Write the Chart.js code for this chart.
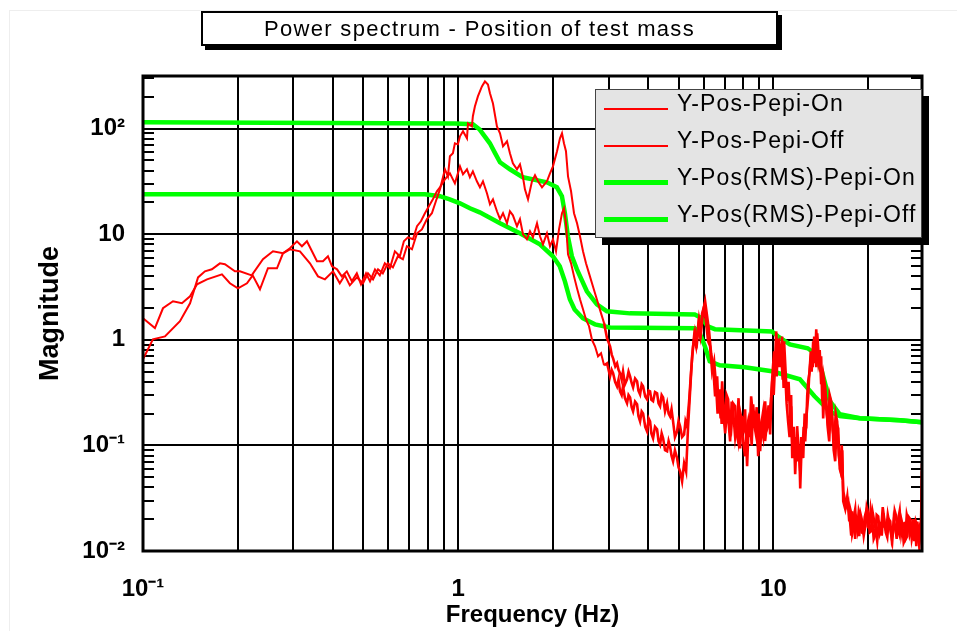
<!DOCTYPE html>
<html>
<head>
<meta charset="utf-8">
<script src="https://cdn.jsdelivr.net/npm/chart.js"></script>
<style>
  html, body { margin: 0; padding: 0; background: #fff; }
  #wrap { position: relative; width: 957px; height: 631px; overflow: hidden; }
  #frame { position: absolute; left: 9px; top: 10px; right: -2px; bottom: -2px; border-left: 1px solid #eee; border-top: 1px solid #eee; }
  #c { position: absolute; left: 0; top: 0; }
  #title { position: absolute; left: 201px; top: 11px; width: 553px; height: 31px; padding-right: 20px;
    border: 2px solid #000; background: #fff; box-shadow: 4px 4px 0 #000;
    font: 22px 'Liberation Sans', Arial, Helvetica, sans-serif; letter-spacing: 1.3px;
    text-align: center; line-height: 32px; color: #000; white-space: nowrap; }
  #legend { position: absolute; left: 595px; top: 89px; width: 325px; height: 147px;
    background: #e4e4e4; border: 1px solid #444; box-shadow: 7px 7px 0 #000; }
  .row { position: absolute; left: 0; height: 37px; width: 325px; }
  .sample { position: absolute; left: 8px; width: 64px; }
  .lbl { position: absolute; left: 81px; top: 0; line-height: 37px;
    font: 23px 'Liberation Sans', Arial, Helvetica, sans-serif; letter-spacing: 1.1px; color: #000; white-space: nowrap; }
</style>
</head>
<body>
<div id="wrap">
  <div id="frame"></div>
  <canvas id="c" width="957" height="631"></canvas>
  <div id="title">Power spectrum - Position of test mass</div>
  <div id="legend"></div>
</div>
<script>
// ---------- data (frequency Hz, magnitude) ----------
const seriesLabels = ['Y-Pos-Pepi-On', 'Y-Pos-Pepi-Off', 'Y-Pos(RMS)-Pepi-On', 'Y-Pos(RMS)-Pepi-Off'];

const pepiOn = [
 [0.100,1.60],[0.1091,1.29],[0.1157,1.99],[0.1245,2.32],[0.1329,2.22],[0.141,2.58],[0.1484,3.35],[0.1596,3.74],[0.178,4.17],[0.1887,3.43],
 [0.2001,3.07],[0.2137,3.43],[0.2228,4.08],[0.235,3.01],[0.2491,4.76],[0.2661,4.76],[0.278,6.60],[0.2925,7.20],[0.3147,6.89],[0.3386,5.30],
 [0.359,3.99],[0.3777,3.74],[0.4007,4.45],[0.421,3.43],[0.4367,4.08],[0.453,3.28],[0.4768,3.90],[0.4988,3.43],[0.5174,4.26],[0.5367,3.74],
 [0.5566,4.65],[0.5765,4.26],[0.598,5.30],[0.6205,4.86],[0.6435,6.18],[0.6675,5.79],[0.6873,7.69],[0.7133,7.20],[0.740,10.2],[0.767,11.1],
 [0.7957,13.9],[0.825,15.8],[0.8494,20.5],[0.875,26.6],[0.9076,41.2],[0.9277,35.3],[0.941,54.7],[0.962,58.4],[0.976,72.6],[0.9977,71],
 [1.013,84.6],[1.0355,94.3],[1.066,81],[1.074,112],[1.105,105],[1.113,131],[1.1295,162],[1.1546,202],[1.189,251],[1.2156,280],
 [1.2425,262],[1.261,216],[1.289,173],[1.327,105],[1.357,90.3],[1.387,68],[1.428,75.8],[1.459,58.4],[1.491,46.9],[1.536,41.2],
 [1.570,45.9],[1.605,34.6],[1.628,26.6],[1.665,21.4],[1.714,31.7],[1.752,36.1],[1.791,31.7],[1.844,27.8],[1.912,31.7],[1.955,37.7],
 [1.998,43.9],[2.058,61],[2.103,81],[2.134,90.3],[2.165,72.6],[2.197,61],[2.23,35.3],[2.28,25.5],[2.33,15.8],[2.382,12.7],
 [2.434,9.56],[2.488,6.89],[2.543,5.30],[2.6,4.26],[2.657,3.43],[2.716,2.76],[2.777,2.22],[2.839,1.78],[2.902,1.44],[2.966,1.03],
 [3.032,0.868],[3.07,0.72],[3.10,0.668],[3.15,0.56],[3.19,0.599],[3.225,0.52],[3.261,0.482],[3.30,0.42],[3.333,0.503],[3.38,0.38],
 [3.432,0.423],[3.47,0.5],[3.509,0.451],[3.55,0.39],[3.587,0.355],[3.64,0.43],[3.693,0.405],[3.73,0.33],[3.775,0.304],[3.82,0.38],
 [3.859,0.363],[3.92,0.29],[3.973,0.273],[4.02,0.33],[4.061,0.325],[4.10,0.27],[4.151,0.262],[4.21,0.32],[4.274,0.311],[4.32,0.25],
 [4.369,0.235],[4.42,0.3],[4.466,0.285],[4.53,0.21],[4.598,0.251],[4.65,0.2],[4.70,0.188],[4.75,0.22],[4.804,0.169],[4.87,0.12],
 [4.947,0.136],[5.0,0.17],[5.057,0.152],[5.13,0.12],[5.207,0.127],[5.26,0.17],[5.322,0.152],[5.36,0.2],[5.40,0.262],[5.48,0.503],
 [5.561,0.868],[5.642,1.20],[5.726,0.968],[5.81,1.56],[5.896,1.2],[5.983,1.86],[6.071,2.32],[6.16,1.67],[6.25,1.2],[6.343,0.745],
 [6.437,0.561],[6.531,0.291],[6.628,0.451],[6.70,0.22],[6.774,0.34],[6.85,0.16],[6.924,0.21],[7.03,0.13],[7.13,0.235],[7.21,0.16],
 [7.288,0.109],[7.37,0.26],[7.45,0.21],[7.56,0.12],[7.67,0.169],[7.75,0.28],[7.84,0.0936],[7.93,0.19],[8.014,0.130],[8.13,0.22],
 [8.25,0.0634],[8.34,0.15],[8.435,0.180],[8.53,0.10],[8.62,0.245],[8.75,0.14],[8.88,0.109],[8.98,0.2],[9.075,0.088],[9.18,0.17],
 [9.277,0.21],[9.41,0.11],[9.55,0.169],[9.65,0.24],[9.763,0.127],[9.84,0.25],[9.91,0.405],[10.02,0.3],[10.13,0.626],[10.24,0.45],
 [10.35,1.03],[10.46,0.55],[10.58,0.745],[10.70,0.42],[10.81,0.968],[10.93,0.5],[11.05,0.262],[11.17,0.4],[11.30,0.18],[11.38,0.3],
 [11.47,0.0756],[11.6,0.15],[11.72,0.0533],[11.85,0.12],[11.98,0.0707],[12.07,0.1],[12.16,0.0392],[12.3,0.11],[12.43,0.0756],[12.56,0.2],
 [12.7,0.145],[12.8,0.3],[12.89,0.405],[13.03,0.5],[13.18,0.778],[13.32,0.55],[13.47,1.076],[13.57,0.7],[13.67,1.26],[13.77,0.8],
 [13.87,0.626],[14.02,0.8],[14.17,0.379],[14.27,0.5],[14.38,0.18],[14.54,0.35],[14.7,0.273],[14.86,0.15],[15.03,0.109],[15.2,0.25],
 [15.36,0.188],[15.53,0.09],[15.7,0.0707],[15.87,0.16],[16.05,0.145],[16.23,0.06],[16.41,0.0533],[16.53,0.09],[16.65,0.0296],[16.9,0.0249],
 [17.15,0.0329],[17.4,0.0191],[17.52,0.025],[17.65,0.0228],[17.78,0.0145],[17.91,0.016],[18.04,0.022],[18.17,0.0249],[18.3,0.017],[18.44,0.0154],
 [18.65,0.024],[18.85,0.0213],[19.06,0.015],[19.27,0.0147],[19.48,0.021],[19.69,0.0238],[19.91,0.017],[20.13,0.0164],[20.35,0.025],[20.58,0.02],
 [20.8,0.013],[21.03,0.0141],[21.26,0.022],[21.5,0.0213],[21.74,0.0145],[21.98,0.016],[22.22,0.026],[22.47,0.02],[22.72,0.015],[22.97,0.0135],
 [23.22,0.02],[23.47,0.0191],[23.73,0.013],[23.99,0.0154],[24.25,0.024],[24.52,0.0213],[24.8,0.016],[25.07,0.0144],[25.34,0.021],[25.62,0.0183],
 [25.9,0.012],[26.19,0.013],[26.48,0.022],[26.77,0.0191],[27.07,0.014],[27.37,0.0154],[27.67,0.02],[27.98,0.0124],[28.29,0.019],[28.6,0.0171],
 [28.8,0.0125],[29.02,0.0111],[29.23,0.018],[29.44,0.0191],[29.6,0.0677]
];

const pepiOff = [
 [0.100,0.654],[0.1075,1.01],[0.1174,1.076],[0.131,1.5],[0.141,2.22],[0.1495,3.90],[0.1572,4.45],[0.1654,4.65],[0.1754,5.30],[0.1819,5.19],
 [0.1957,4.45],[0.203,4.45],[0.2212,4.08],[0.2402,5.79],[0.2584,6.89],[0.278,6.60],[0.2925,7.36],[0.3079,8.57],[0.3193,7.69],[0.3312,8.57],
 [0.3436,6.89],[0.3564,5.54],[0.3723,5.54],[0.3861,6.18],[0.3978,4.97],[0.4126,4.65],[0.4272,3.99],[0.4431,4.45],[0.4597,3.58],[0.4768,4.26],
 [0.4916,3.35],[0.5099,4.26],[0.525,3.58],[0.5445,4.65],[0.564,4.08],[0.585,5.30],[0.607,4.76],[0.6296,6.89],[0.653,6.18],[0.6724,8.57],
 [0.6923,9.35],[0.7186,8.96],[0.740,11.9],[0.7615,13.25],[0.7841,15.8],[0.807,18.4],[0.831,21.4],[0.8557,25.5],[0.875,27.8],[0.9076,33.1],
 [0.941,37.7],[0.976,30.3],[1.013,43.9],[1.0355,36.9],[1.066,41.2],[1.089,34.6],[1.113,39.4],[1.146,31.7],[1.172,27.8],[1.198,31.7],
 [1.2335,24.4],[1.261,19.2],[1.289,21.4],[1.327,16.5],[1.357,13.9],[1.387,15.8],[1.428,12.7],[1.459,16.5],[1.491,15.1],[1.536,11.9],
 [1.570,13.9],[1.605,9.99],[1.652,8.96],[1.689,10.66],[1.726,9.35],[1.778,12.7],[1.817,9.56],[1.857,8.03],[1.912,10.2],[1.955,7.69],
 [1.998,8.96],[2.043,6.89],[2.088,11.13],[2.134,15.8],[2.165,17.6],[2.197,12.7],[2.23,6.45],[2.28,5.30],[2.33,3.99],[2.382,3.07],
 [2.434,2.42],[2.488,1.95],[2.543,1.56],[2.6,1.345],[2.657,1.0],[2.716,0.868],[2.777,0.698],[2.839,0.745],[2.902,0.574],[2.966,0.599],
 [3.032,0.451],[3.066,0.52],[3.10,0.482],[3.145,0.4],[3.19,0.363],[3.225,0.42],[3.261,0.325],[3.30,0.3],[3.333,0.363],[3.38,0.28],
 [3.432,0.251],[3.47,0.3],[3.509,0.285],[3.55,0.23],[3.587,0.21],[3.64,0.26],[3.693,0.245],[3.73,0.19],[3.775,0.169],[3.82,0.21],
 [3.859,0.201],[3.92,0.15],[3.973,0.136],[4.02,0.18],[4.061,0.169],[4.10,0.13],[4.151,0.117],[4.21,0.15],[4.274,0.142],[4.32,0.11],
 [4.369,0.102],[4.42,0.13],[4.466,0.117],[4.53,0.09],[4.598,0.088],[4.65,0.11],[4.70,0.0978],[4.75,0.08],[4.804,0.0707],[4.87,0.09],
 [4.947,0.0756],[5.0,0.062],[5.057,0.0569],[5.131,0.0457],[5.207,0.0677],[5.284,0.0569],[5.361,0.152],[5.44,0.325],[5.52,0.698],[5.60,1.076],
 [5.684,0.868],[5.768,1.345],[5.853,1.076],[5.939,1.78],[6.027,2.08],[6.115,1.44],[6.205,0.968],[6.297,0.868],[6.39,0.503],[6.484,0.626],
 [6.579,0.363],[6.65,0.2],[6.725,0.291],[6.80,0.18],[6.874,0.405],[6.95,0.22],[7.026,0.169],[7.10,0.3],[7.182,0.273],[7.26,0.15],
 [7.341,0.136],[7.45,0.25],[7.559,0.235],[7.64,0.13],[7.727,0.109],[7.81,0.22],[7.897,0.188],[8.01,0.11],[8.13,0.0789],[8.22,0.14],
 [8.312,0.169],[8.40,0.12],[8.497,0.291],[8.62,0.18],[8.749,0.152],[8.85,0.23],[8.943,0.0789],[9.04,0.13],[9.141,0.152],[9.28,0.12],
 [9.413,0.262],[9.52,0.14],[9.621,0.152],[9.73,0.2],[9.834,0.291],[9.94,0.5],[10.05,0.778],[10.12,0.6],[10.2,1.2],[10.31,0.7],
 [10.43,0.868],[10.54,0.6],[10.65,1.076],[10.77,0.35],[10.89,0.503],[11.01,0.25],[11.13,0.169],[11.25,0.12],[11.38,0.235],[11.51,0.08],
 [11.64,0.109],[11.76,0.07],[11.89,0.152],[12.02,0.09],[12.16,0.0569],[12.25,0.12],[12.34,0.0789],[12.47,0.15],[12.61,0.109],[12.75,0.2],
 [12.89,0.291],[12.98,0.45],[13.08,0.626],[13.22,0.5],[13.37,0.968],[13.47,0.6],[13.57,0.813],[13.67,0.55],[13.77,1.15],[13.92,0.7],
 [14.07,0.503],[14.17,0.7],[14.28,0.262],[14.43,0.45],[14.59,0.363],[14.75,0.2],[14.92,0.152],[15.08,0.3],[15.25,0.262],[15.42,0.14],
 [15.59,0.109],[15.76,0.2],[15.93,0.169],[16.11,0.08],[16.29,0.0634],[16.47,0.1],[16.65,0.0367],[17.02,0.0265],[17.27,0.0296],[17.52,0.0183],
 [17.65,0.014],[17.78,0.0238],[17.91,0.018],[18.04,0.0171],[18.17,0.013],[18.3,0.0213],[18.5,0.02],[18.71,0.0138],[18.92,0.022],[19.13,0.0191],
 [19.34,0.014],[19.55,0.0171],[19.76,0.026],[19.98,0.0228],[20.2,0.015],[20.43,0.0154],[20.65,0.023],[20.88,0.0191],[21.1,0.016],[21.34,0.0124],
 [21.58,0.019],[21.82,0.0183],[22.06,0.014],[22.3,0.0228],[22.55,0.017],[22.8,0.0154],[23.05,0.022],[23.3,0.0183],[23.56,0.015],[23.82,0.0124],
 [24.08,0.02],[24.34,0.0171],[24.6,0.013],[24.88,0.02],[25.15,0.024],[25.43,0.0147],[25.7,0.018],[26.0,0.0183],[26.3,0.013],[26.58,0.0138],
 [26.87,0.021],[27.17,0.02],[27.47,0.013],[27.77,0.0154],[28.08,0.02],[28.39,0.0111],[28.6,0.019],[28.8,0.016],[29.0,0.012],[29.23,0.0138],
 [29.4,0.02],[29.6,0.0569]
];

const rmsOn = [
 [0.1,115],[0.976,112],[1.113,110],[1.17,98],[1.26,72.6],[1.31,58.3],[1.357,48],[1.459,41.2],[1.604,34.6],[1.911,31],
 [2.056,27.8],[2.133,22.9],[2.18,15.8],[2.228,9.55],[2.294,6.18],[2.38,4.65],[2.559,2.88],[2.754,2.17],[2.962,1.86],[3.505,1.78],
 [5.63,1.74],[5.93,1.6],[6.19,1.34],[6.52,1.26],[9.89,1.2],[10.33,1.08],[11.27,0.906],[12.85,0.831],[13.5,0.745],[14.24,0.503],
 [15.1,0.262],[16.24,0.197],[18.8,0.181],[25.2,0.173],[29.6,0.166]
];

const rmsOff = [
 [0.1,23.9],[0.784,23.9],[0.875,22.9],[0.94,21.4],[1.013,19.6],[1.089,17.6],[1.17,16.1],[1.357,12.7],[1.569,10.2],[1.816,8.02],
 [1.997,6.18],[2.1,4.97],[2.18,3.58],[2.26,2.42],[2.34,1.94],[2.485,1.6],[2.714,1.40],[3.03,1.31],[5.63,1.29],[5.84,1.15],
 [6.06,0.868],[6.28,0.626],[6.76,0.574],[8.11,0.55],[9.89,0.503],[12.13,0.423],[13.5,0.292],[15.1,0.21],[16.24,0.19],[18.8,0.181],
 [25.2,0.173],[29.6,0.166]
];

// axis ticks
const xGridValues = [0.1,0.2,0.3,0.4,0.5,0.6,0.7,0.8,0.9,1,2,3,4,5,6,7,8,9,10,20];
const xLabelValues = [0.1, 1, 10];
const xTickLabels = ['10\u207B\u00B9', '1', '10'];
const yLabelValues = [0.01, 0.1, 1, 10, 100];
const yTickLabels = ['10\u207B\u00B2', '10\u207B\u00B9', '1', '10', '10\u00B2'];

// ---------- chart ----------
const FONT = "'Liberation Sans', Arial, Helvetica, sans-serif";
const RED = '#ff0000', GREEN = '#00ff00';

function labelFor(value, values, labels) {
  for (let i = 0; i < values.length; i++) {
    if (Math.abs(Math.log10(value) - Math.log10(values[i])) < 1e-6) return labels[i];
  }
  return '';
}
const toXY = arr => arr.map(p => ({ x: p[0], y: p[1] }));

const framePlugin = {
  id: 'framePlugin',
  beforeDatasetsDraw(chart) {
    const { ctx, chartArea: { left, right }, scales: { y } } = chart;
    ctx.save();
    ctx.strokeStyle = '#000';
    ctx.lineWidth = 2;
    yLabelValues.forEach(d => {
      for (let k = 1; k <= 9; k++) {
        const v = d * k;
        if (v > y.max * 1.0001) break;
        const p = Math.round(y.getPixelForValue(v));
        const len = k === 1 ? 22 : 11;
        ctx.beginPath();
        ctx.moveTo(left, p); ctx.lineTo(left + len, p);
        ctx.moveTo(right - len, p); ctx.lineTo(right, p);
        ctx.stroke();
      }
    });
    ctx.restore();
  },
  afterDatasetsDraw(chart) {
    const { ctx, chartArea: { left, right, top, bottom } } = chart;
    ctx.save();
    ctx.strokeStyle = '#000';
    ctx.lineWidth = 3;
    ctx.strokeRect(left, top, right - left, bottom - top);
    ctx.restore();
  }
};

const redSegment = { borderWidth: c => (c.p0.parsed.x > 2.9 ? 2.6 : 2) };

const chart = new Chart(document.getElementById('c'), {
  type: 'line',
  data: {
    datasets: [
      { label: seriesLabels[0], data: toXY(pepiOn), borderColor: RED, borderWidth: 2, segment: redSegment },
      { label: seriesLabels[1], data: toXY(pepiOff), borderColor: RED, borderWidth: 2, segment: redSegment },
      { label: seriesLabels[2], data: toXY(rmsOn), borderColor: GREEN, borderWidth: 4.5 },
      { label: seriesLabels[3], data: toXY(rmsOff), borderColor: GREEN, borderWidth: 4.5 }
    ].map(ds => Object.assign(ds, { pointRadius: 0, tension: 0, fill: false, backgroundColor: ds.borderColor }))
  },
  options: {
    responsive: false,
    animation: false,
    devicePixelRatio: 1,
    layout: { padding: { left: 0, right: 35, top: 76, bottom: 0 } },
    plugins: { legend: { display: false }, title: { display: false }, tooltip: { enabled: false } },
    scales: {
      x: {
        type: 'logarithmic',
        min: 0.1, max: 29.6,
        afterBuildTicks: s => { s.ticks = xGridValues.map(v => ({ value: v })); },
        afterFit: s => { s.height = 80; },
        grid: { color: '#000', lineWidth: 2, drawTicks: false },
        border: { display: false },
        ticks: {
          autoSkip: false, maxRotation: 0, minRotation: 0, padding: 24, color: '#000',
          font: { family: FONT, size: 24, weight: 'bold' },
          callback: v => labelFor(v, xLabelValues, xTickLabels)
        },
        title: { display: true, text: 'Frequency (Hz)', color: '#000',
          font: { family: FONT, size: 24, weight: 'bold' }, padding: { top: 0, bottom: 1 } }
      },
      y: {
        type: 'logarithmic',
        min: 0.01, max: 315,
        afterBuildTicks: s => { s.ticks = yLabelValues.map(v => ({ value: v })); },
        afterFit: s => { s.width = 143; },
        grid: { color: '#000', lineWidth: 2, drawTicks: false },
        border: { display: false },
        ticks: {
          autoSkip: false, padding: 18, color: '#000',
          font: { family: FONT, size: 24, weight: 'bold' },
          callback: v => labelFor(v, yLabelValues, yTickLabels)
        },
        title: { display: true, text: 'Magnitude', color: '#000',
          font: { family: FONT, size: 27, weight: 'bold' }, padding: { top: 34, bottom: 0 } }
      }
    }
  },
  plugins: [framePlugin]
});

// ---------- legend (HTML, from the chart's datasets) ----------
const legend = document.getElementById('legend');
chart.data.datasets.forEach((ds, i) => {
  const row = document.createElement('div');
  row.className = 'row';
  row.style.top = (i * 37) + 'px';
  const s = document.createElement('div');
  s.className = 'sample';
  const h = ds.borderWidth > 3 ? 5 : 2;
  s.style.height = h + 'px';
  s.style.top = (18.5 - h / 2) + 'px';
  s.style.background = ds.borderColor;
  const t = document.createElement('div');
  t.className = 'lbl';
  t.textContent = ds.label;
  row.appendChild(s); row.appendChild(t);
  legend.appendChild(row);
});
</script>
</body>
</html>
